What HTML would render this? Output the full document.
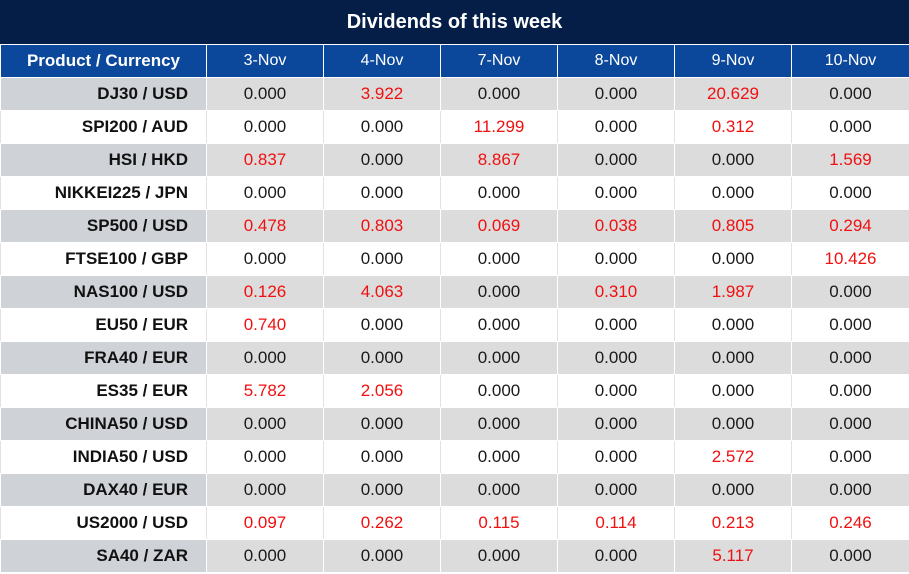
<!DOCTYPE html>
<html><head><meta charset="utf-8"><style>
html,body{margin:0;padding:0;background:#fff;width:909px;height:574px;overflow:hidden;font-family:"Liberation Sans",sans-serif}
.title{position:absolute;left:0;top:0;width:909px;height:44px;background:#041e47;color:#fff;font-weight:bold;font-size:20px;text-align:center;line-height:44px}
table{position:absolute;left:0;top:44px;border-collapse:collapse;table-layout:fixed;width:909px}
td,th{border:1px solid #fff;height:32px;padding:0;font-size:17px;text-align:center;color:#1a1a1a}
tr.w td{border-left-color:#e2e2e2;border-right-color:#e2e2e2}
th{background:#0b479b;color:#fff;font-weight:normal;font-size:16px}
th:first-child{font-weight:bold;font-size:17px}
td:first-child{text-align:right;padding-right:18px;font-weight:bold;color:#111}
tr.g td{background:#dcdcdc}
tr.g td:first-child{background:#cfd2d7}
.r{color:#f01010}
</style></head><body>
<div class="title">Dividends of this week</div>
<table>
<colgroup><col style="width:206px"><col style="width:117px"><col style="width:117px"><col style="width:117px"><col style="width:117px"><col style="width:117px"><col style="width:118px"></colgroup>
<tr><th>Product / Currency</th><th>3-Nov</th><th>4-Nov</th><th>7-Nov</th><th>8-Nov</th><th>9-Nov</th><th>10-Nov</th></tr>
<tr class="g"><td>DJ30 / USD</td><td>0.000</td><td class="r">3.922</td><td>0.000</td><td>0.000</td><td class="r">20.629</td><td>0.000</td></tr>
<tr class="w"><td>SPI200 / AUD</td><td>0.000</td><td>0.000</td><td class="r">11.299</td><td>0.000</td><td class="r">0.312</td><td>0.000</td></tr>
<tr class="g"><td>HSI / HKD</td><td class="r">0.837</td><td>0.000</td><td class="r">8.867</td><td>0.000</td><td>0.000</td><td class="r">1.569</td></tr>
<tr class="w"><td>NIKKEI225 / JPN</td><td>0.000</td><td>0.000</td><td>0.000</td><td>0.000</td><td>0.000</td><td>0.000</td></tr>
<tr class="g"><td>SP500 / USD</td><td class="r">0.478</td><td class="r">0.803</td><td class="r">0.069</td><td class="r">0.038</td><td class="r">0.805</td><td class="r">0.294</td></tr>
<tr class="w"><td>FTSE100 / GBP</td><td>0.000</td><td>0.000</td><td>0.000</td><td>0.000</td><td>0.000</td><td class="r">10.426</td></tr>
<tr class="g"><td>NAS100 / USD</td><td class="r">0.126</td><td class="r">4.063</td><td>0.000</td><td class="r">0.310</td><td class="r">1.987</td><td>0.000</td></tr>
<tr class="w"><td>EU50 / EUR</td><td class="r">0.740</td><td>0.000</td><td>0.000</td><td>0.000</td><td>0.000</td><td>0.000</td></tr>
<tr class="g"><td>FRA40 / EUR</td><td>0.000</td><td>0.000</td><td>0.000</td><td>0.000</td><td>0.000</td><td>0.000</td></tr>
<tr class="w"><td>ES35 / EUR</td><td class="r">5.782</td><td class="r">2.056</td><td>0.000</td><td>0.000</td><td>0.000</td><td>0.000</td></tr>
<tr class="g"><td>CHINA50 / USD</td><td>0.000</td><td>0.000</td><td>0.000</td><td>0.000</td><td>0.000</td><td>0.000</td></tr>
<tr class="w"><td>INDIA50 / USD</td><td>0.000</td><td>0.000</td><td>0.000</td><td>0.000</td><td class="r">2.572</td><td>0.000</td></tr>
<tr class="g"><td>DAX40 / EUR</td><td>0.000</td><td>0.000</td><td>0.000</td><td>0.000</td><td>0.000</td><td>0.000</td></tr>
<tr class="w"><td>US2000 / USD</td><td class="r">0.097</td><td class="r">0.262</td><td class="r">0.115</td><td class="r">0.114</td><td class="r">0.213</td><td class="r">0.246</td></tr>
<tr class="g"><td>SA40 / ZAR</td><td>0.000</td><td>0.000</td><td>0.000</td><td>0.000</td><td class="r">5.117</td><td>0.000</td></tr>
</table>
</body></html>
